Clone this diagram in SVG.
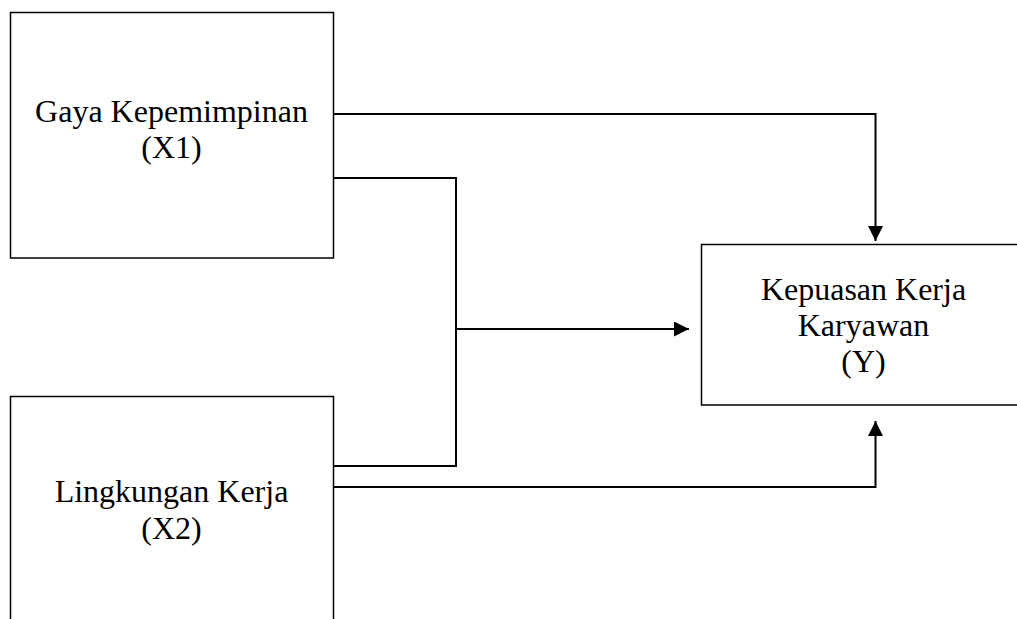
<svg xmlns="http://www.w3.org/2000/svg" width="1017" height="619" viewBox="0 0 1017 619">
<style>
.box{fill:#fff;stroke:#000;stroke-width:1.5}
.lbl{font-family:"Liberation Serif","Times New Roman",serif;font-size:32px;fill:#000;text-anchor:middle}
.ln{fill:none;stroke:#000;stroke-width:2}
</style>
<defs>
<marker id="ah" viewBox="0 0 10 10" refX="10" refY="5" markerWidth="15" markerHeight="15" markerUnits="userSpaceOnUse" orient="auto">
<path d="M0,0 L10,5 L0,10 Z" fill="#000"/>
</marker>
</defs>
<rect width="1017" height="619" fill="#fff"/>
<g id="x1">
<rect class="box" x="10.5" y="12.5" width="323" height="245.5"/>
<text class="lbl" x="171.5" y="122">Gaya Kepemimpinan</text>
<text class="lbl" x="171.5" y="158">(X1)</text>
</g>
<g id="x2">
<rect class="box" x="10.5" y="396.5" width="323" height="240"/>
<text class="lbl" x="171.5" y="502">Lingkungan Kerja</text>
<text class="lbl" x="171.5" y="539">(X2)</text>
</g>
<g id="y">
<rect class="box" x="701.5" y="244.5" width="330" height="160.5"/>
<text class="lbl" x="863.5" y="300">Kepuasan Kerja</text>
<text class="lbl" x="863.5" y="336">Karyawan</text>
<text class="lbl" x="863.5" y="372">(Y)</text>
</g>
<g id="connectors">
<polyline class="ln" points="334,114 875.5,114 875.5,241" marker-end="url(#ah)"/>
<polyline class="ln" points="334,178 456,178 456,466 334,466"/>
<line class="ln" x1="456" y1="329" x2="689" y2="329" marker-end="url(#ah)"/>
<polyline class="ln" points="334,487 875.5,487 875.5,421" marker-end="url(#ah)"/>
</g>
</svg>
